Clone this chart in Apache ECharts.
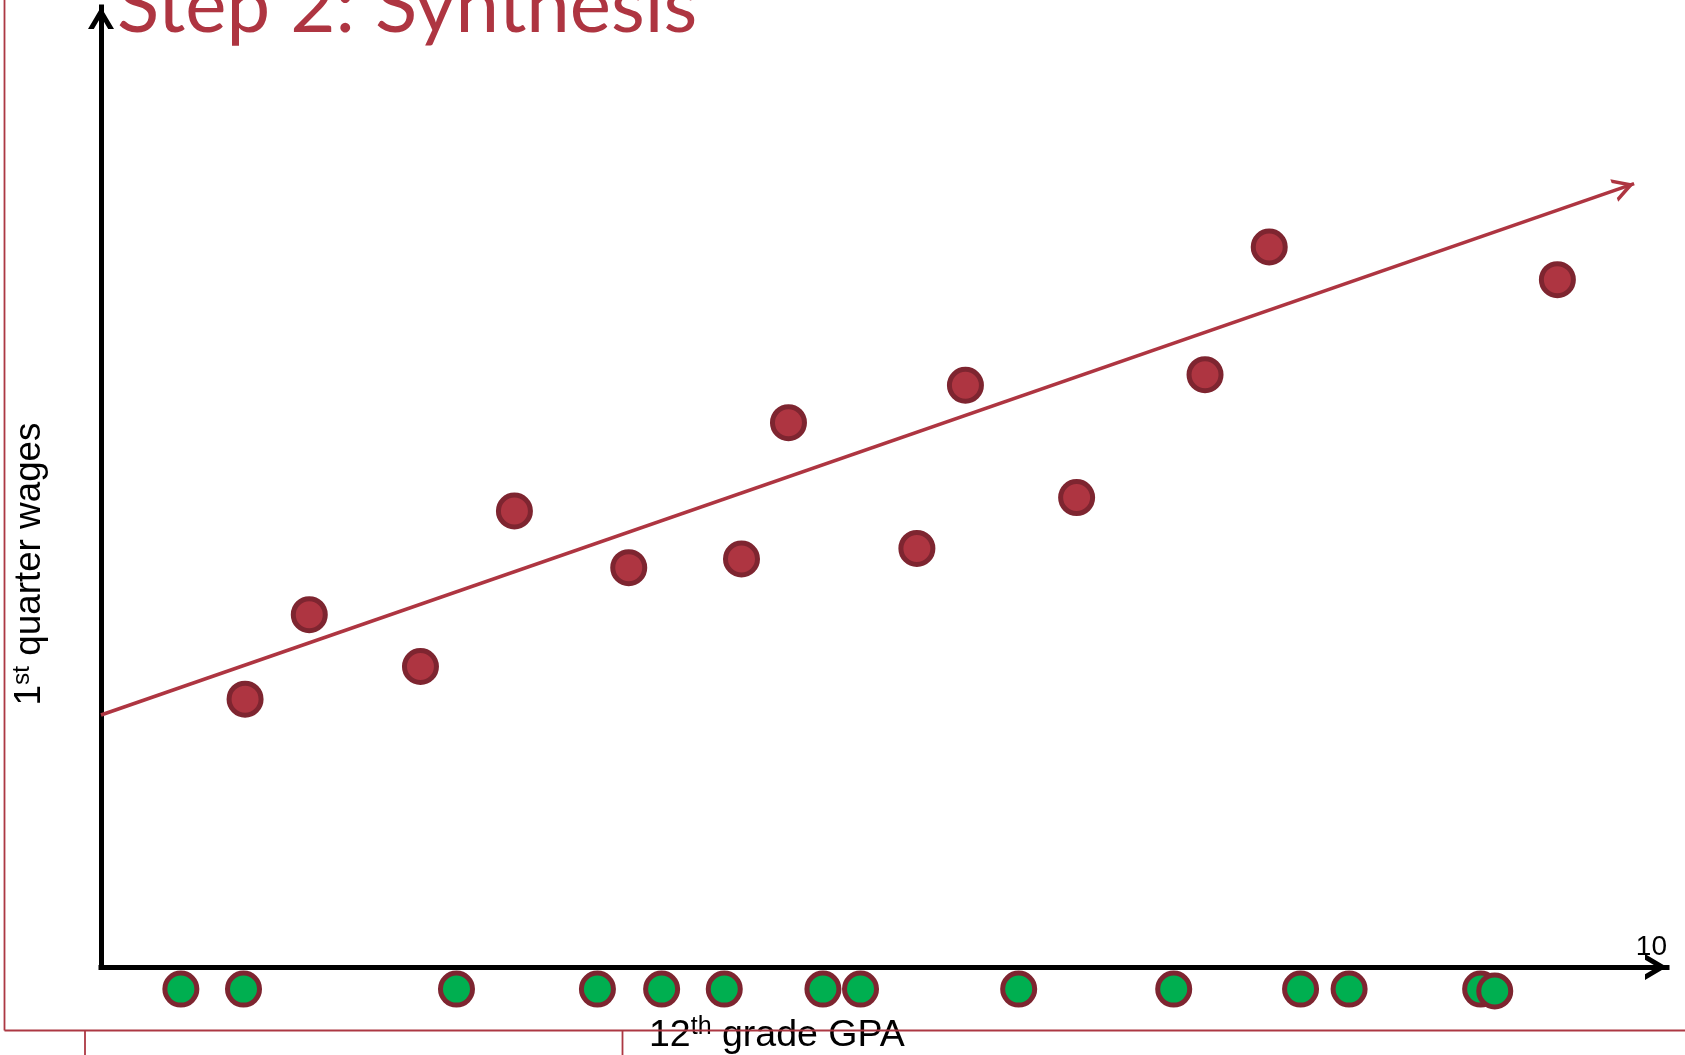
<!DOCTYPE html>
<html>
<head>
<meta charset="utf-8">
<title>Step 2: Synthesis</title>
<script src="https://cdn.jsdelivr.net/npm/echarts@6/dist/echarts.min.js"></script>
<style>
  html, body { margin: 0; padding: 0; background: #ffffff; }
  #chart { width: 1685px; height: 1055px; }
</style>
</head>
<body>
<div id="chart"></div>
<script>
// Axis ranges (GPA on x, wages on y, both on a 0–10 scale)
const xRange = [0, 10];
const yRange = [0, 10];
const xTickLabels = ['10'];

// Students with wage records: 12th grade GPA vs 1st quarter wages
const wageGpa   = [0.92, 1.33, 2.04, 2.64, 3.37, 4.09, 4.39, 5.21, 5.52, 6.23, 7.05, 7.46, 9.30];
const wageValue = [2.79, 3.67, 3.13, 4.75, 4.16, 4.25, 5.67, 4.36, 6.06, 4.89, 6.17, 7.50, 7.16];

// Students without wage records: GPA only, shown in a row under the axis
const noWageGpa = [0.51, 0.91, 2.27, 3.17, 3.58, 3.98, 4.61, 4.85, 5.86, 6.85, 7.66, 7.97, 8.81, 8.90];
const noWageRow = [-0.23, -0.23, -0.23, -0.23, -0.23, -0.23, -0.23, -0.23, -0.23, -0.23, -0.23, -0.23, -0.23, -0.25];

// Fitted trend line, start and end (arrow tip)
const trendStart = [0, 2.625];
const trendEnd = [9.79, 8.16];

const RED = '#AE3541';
const RED_DARK = '#7E2530';
const GREEN = '#00AF50';
const FRAME = '#AC3843';

// Open chevron arrowhead as a filled outline; tip sits at the symbol centre
function chevron(w, h, t) {
  const th = Math.atan((w / 2) / h);
  const a = t / Math.sin(th);
  const k = t / Math.cos(th);
  const f = (v) => v.toFixed(2);
  return 'path://M' + f(w / 2) + ' ' + f(-h) +
    ' M' + f(w / 2) + ' 0 L' + f(w) + ' ' + f(h) + ' L' + f(w - k) + ' ' + f(h) +
    ' L' + f(w / 2) + ' ' + f(a) + ' L' + f(k) + ' ' + f(h) + ' L0 ' + f(h) + ' Z';
}
const axisArrow = chevron(26, 22, 5);
const trendArrow = chevron(24, 21, 3.6);

const zip = (xs, ys) => xs.map((x, i) => [x, ys[i]]);

const chart = echarts.init(document.getElementById('chart'), null, { renderer: 'canvas' });

const labelFont = '"Liberation Sans", Arial, Helvetica, sans-serif';

chart.setOption({
  animation: false,
  backgroundColor: '#ffffff',
  grid: { left: 101, right: 18, top: 7, bottom: 88, containLabel: false, outerBoundsMode: 'none' },
  xAxis: {
    type: 'value',
    min: xRange[0], max: xRange[1], interval: 10,
    splitLine: { show: false },
    axisTick: { show: false },
    axisLine: {
      show: true,
      lineStyle: { color: '#000000', width: 5, cap: 'square' },
      symbol: ['none', axisArrow],
      symbolSize: [26, 44]
    },
    axisLabel: {
      inside: true,
      margin: 6,
      align: 'right',
      showMinLabel: false,
      fontSize: 28,
      fontFamily: labelFont,
      color: '#000000',
      formatter: (v) => (xTickLabels.indexOf(String(v)) >= 0 ? String(v) : '')
    }
  },
  yAxis: {
    type: 'value',
    min: yRange[0], max: yRange[1],
    splitLine: { show: false },
    axisTick: { show: false },
    axisLabel: { show: false },
    axisLine: {
      show: true,
      lineStyle: { color: '#000000', width: 5, cap: 'square' },
      symbol: ['none', axisArrow],
      symbolSize: [26, 44]
    }
  },
  series: [
    {
      name: 'with wages',
      type: 'scatter',
      clip: false,
      symbol: 'circle',
      symbolSize: 32,
      itemStyle: { color: RED, borderColor: RED_DARK, borderWidth: 5, opacity: 1 },
      data: zip(wageGpa, wageValue),
      z: 3,
      markLine: {
        silent: true,
        symbol: ['none', trendArrow],
        symbolSize: [24, 42],
        label: { show: false },
        lineStyle: { color: RED, width: 3.6, type: 'solid', opacity: 1 },
        data: [[{ coord: trendStart }, { coord: trendEnd }]]
      }
    },
    {
      name: 'without wages',
      type: 'scatter',
      clip: false,
      symbol: 'circle',
      symbolSize: 32,
      itemStyle: { color: GREEN, borderColor: RED_DARK, borderWidth: 5, opacity: 1 },
      data: zip(noWageGpa, noWageRow),
      z: 3
    }
  ],
  graphic: [
    {
      type: 'text',
      x: 117, y: 7,
      style: {
        text: 'Step 2: Synthesis',
        font: '78px Lato, "Open Sans", sans-serif',
        fill: RED,
        textAlign: 'left',
        textVerticalAlign: 'middle'
      },
      z: 10
    },
    {
      type: 'text',
      x: 649, y: 1036,
      style: {
        text: '12{sup|th} grade GPA',
        font: '37.5px ' + labelFont,
        fill: '#000000',
        textAlign: 'left',
        textVerticalAlign: 'middle',
        lineHeight: 42,
        rich: {
          sup: { fontSize: 25, fontFamily: labelFont, lineHeight: 25, verticalAlign: 'top', fill: '#000000' }
        }
      },
      z: 10
    },
    {
      type: 'text',
      x: 30, y: 564,
      rotation: Math.PI / 2,
      style: {
        text: '1{sup|st} quarter wages',
        font: '36.8px ' + labelFont,
        fill: '#000000',
        textAlign: 'center',
        textVerticalAlign: 'middle',
        lineHeight: 41,
        rich: {
          sup: { fontSize: 24.5, fontFamily: labelFont, lineHeight: 24.5, verticalAlign: 'top', fill: '#000000' }
        }
      },
      z: 10
    },
    // slide frame rules
    { type: 'line', shape: { x1: 4.5, y1: 0, x2: 4.5, y2: 1030.5 }, style: { stroke: FRAME, lineWidth: 1.8 }, z: 11 },
    { type: 'line', shape: { x1: 4.5, y1: 1030.5, x2: 1685, y2: 1030.5 }, style: { stroke: FRAME, lineWidth: 1.8 }, z: 11 },
    { type: 'line', shape: { x1: 85, y1: 1030.5, x2: 85, y2: 1055 }, style: { stroke: FRAME, lineWidth: 1.8 }, z: 11 },
    { type: 'line', shape: { x1: 622.5, y1: 1030.5, x2: 622.5, y2: 1055 }, style: { stroke: FRAME, lineWidth: 1.8 }, z: 11 }
  ]
});
</script>
</body>
</html>
